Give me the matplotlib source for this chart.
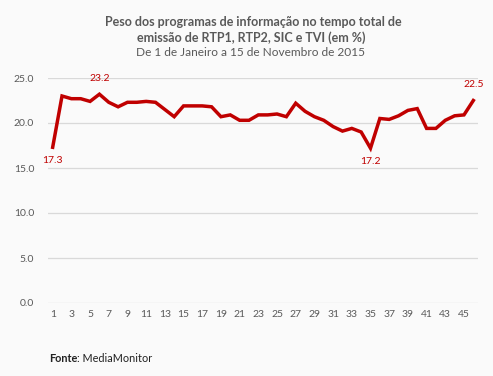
import matplotlib.pyplot as plt
import numpy as np

plt.rcParams['font.family'] = ['Lato', 'DejaVu Sans']

# weekly share of news programmes (%)
semanas = np.arange(1, 47)
peso = [17.3, 23.0, 22.7, 22.7, 22.4, 23.2, 22.3, 21.8, 22.3, 22.3,
        22.4, 22.3, 21.5, 20.7, 21.9, 21.9, 21.9, 21.8, 20.7, 20.9,
        20.3, 20.3, 20.9, 20.9, 21.0, 20.7, 22.2, 21.3, 20.7, 20.3,
        19.6, 19.1, 19.4, 19.0, 17.2, 20.5, 20.4, 20.8, 21.4, 21.6,
        19.4, 19.4, 20.3, 20.8, 20.9, 22.5]
yticks = [0, 5, 10, 15, 20, 25]
xticks = list(range(1, 46, 2))
destaques = {1: 'below', 6: 'above', 35: 'below', 46: 'above'}

W, H = 493, 376
bg = '#fafafa'
red = '#c00000'
grey = '#595959'

fig = plt.figure(figsize=(W/100, H/100), dpi=100, facecolor=bg)
ax = fig.add_axes([48/W, (H-303)/H, 430/W, 225/H], facecolor=bg)

ax.plot(semanas, peso, color=red, lw=2.5, solid_joinstyle='miter')

for s, pos in destaques.items():
    v = peso[s-1]
    if pos == 'below':
        ax.annotate(f'{v:.1f}', (s, v), xytext=(0, -6), textcoords='offset points',
                    ha='center', va='top', color=red, fontsize=7.5)
    else:
        ax.annotate(f'{v:.1f}', (s, v), xytext=(0, 8),
                    textcoords='offset points', ha='center', va='bottom', color=red, fontsize=7.5)

ax.set_xlim(0.5, 46.5)
ax.set_ylim(0, 25)
ax.set_yticks(yticks)
ax.set_yticklabels([f'{t:.1f}' for t in yticks])
ax.set_xticks(xticks)
ax.grid(axis='y', color='#d9d9d9', lw=0.9)
ax.set_axisbelow(True)
for sp in ax.spines.values():
    sp.set_visible(False)
ax.tick_params(length=0, colors=grey, labelsize=7.5)
ax.tick_params(axis='y', pad=10)
ax.tick_params(axis='x', pad=5)

fig.text(253/W, 1-22/H, 'Peso dos programas de informação no tempo total de',
         ha='center', va='center', fontsize=9.0, fontweight='bold', color=grey)
fig.text(251/W, 1-38/H, 'emissão de RTP1, RTP2, SIC e TVI (em %)',
         ha='center', va='center', fontsize=9.0, fontweight='bold', color=grey)
fig.text(251/W, 1-53/H, 'De 1 de Janeiro a 15 de Novembro de 2015',
         ha='center', va='center', fontsize=8.6, color=grey)

t = fig.text(49/W, 1-359/H, 'Fonte', ha='left', va='center', fontsize=7.8, fontweight='bold', color='#222222')
fig.canvas.draw()
bb = t.get_window_extent()
fig.text(bb.x1/W, 1-359/H, ': MediaMonitor', ha='left', va='center', fontsize=7.8, color='#222222')

fig.savefig('out.png', dpi=100, facecolor=bg)
